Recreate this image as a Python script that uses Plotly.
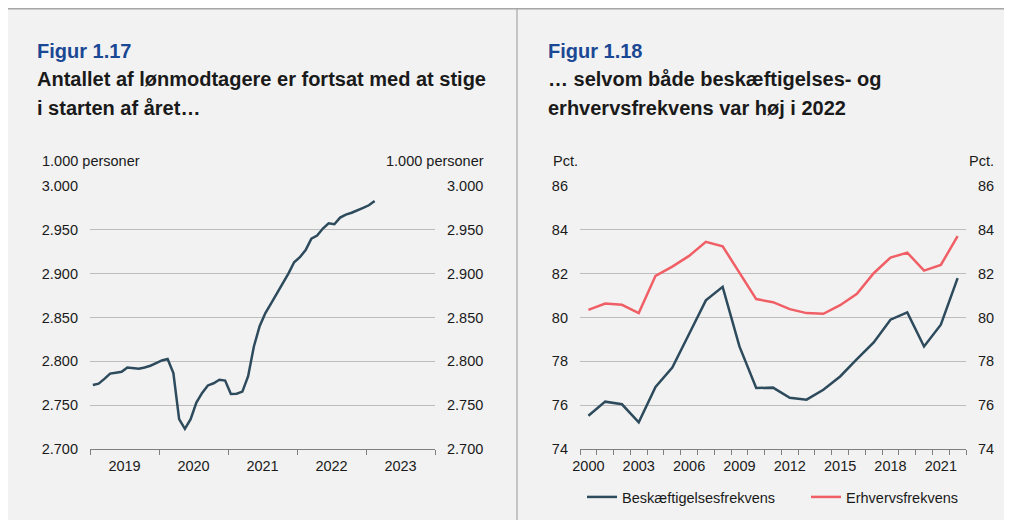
import plotly.graph_objects as go

# ---------- data ----------
lonmodtagere = [2773, 2774.5, 2780, 2786, 2787, 2788, 2793, 2792, 2791.6, 2793,
                2795, 2798, 2801, 2802.6, 2786.6, 2734, 2723, 2734, 2753, 2764,
                2772.5, 2775, 2779, 2778, 2762.7, 2763, 2765.5, 2783, 2817, 2840,
                2855, 2866, 2877, 2888, 2900, 2913, 2918.8, 2927, 2940, 2943.4,
                2951.5, 2957.5, 2956.4, 2964, 2967.3, 2969.5, 2972, 2975, 2978, 2983]
left_year_labels = ["2019", "2020", "2021", "2022", "2023"]
left_ytick_vals = [2700, 2750, 2800, 2850, 2900, 2950, 3000]
left_ytick_text = ["2.700", "2.750", "2.800", "2.850", "2.900", "2.950", "3.000"]

years = list(range(2000, 2023))
beskaeftigelse = [75.52, 76.16, 76.04, 75.22, 76.83, 77.72, 79.25, 80.78, 81.4, 78.68,
                  76.78, 76.8, 76.34, 76.25, 76.7, 77.31, 78.1, 78.86, 79.9, 80.23,
                  78.68, 79.67, 81.8]
erhverv = [80.35, 80.64, 80.58, 80.2, 81.9, 82.32, 82.81, 83.45, 83.25, 82.02,
           80.84, 80.7, 80.38, 80.2, 80.17, 80.56, 81.08, 82.02, 82.73, 82.96,
           82.14, 82.4, 83.71]
right_year_labels = [str(y) for y in range(2000, 2022, 3)]
right_ytick_vals = [74, 76, 78, 80, 82, 84, 86]

# ---------- styles ----------
PAGE_W, PAGE_H = 1012, 520
OFF = 8                      # page body margin
W, H = PAGE_W - OFF, PAGE_H - OFF
FONT = "Liberation Sans, Arial, sans-serif"
DARK = "#2d4b5c"
RED = "#f05f65"
GRID = "#bdbdbd"
AXIS = "#7f7f7f"
BG = "#f2f2f2"
TXT = "#1a1a1a"
BLUE = "#1b4894"
FS = 14.5

def px(x):
    return (x - OFF) / W

def py(y):
    return (PAGE_H - y) / H

ydom = [py(449), py(186)]

month_x = [i + 0.5 for i in range(len(lonmodtagere))]

fig = go.Figure()
fig.add_trace(go.Scatter(x=month_x, y=lonmodtagere, mode="lines",
                         line=dict(color=DARK, width=2.5), showlegend=False,
                         xaxis="x", yaxis="y"))
fig.add_trace(go.Scatter(x=years, y=beskaeftigelse, mode="lines", name="Beskæftigelsesfrekvens",
                         line=dict(color=DARK, width=2.5), xaxis="x2", yaxis="y3"))
fig.add_trace(go.Scatter(x=years, y=erhverv, mode="lines", name="Erhvervsfrekvens",
                         line=dict(color=RED, width=2.5), xaxis="x2", yaxis="y3"))
# invisible traces to carry the right-hand axes
fig.add_trace(go.Scatter(x=[None], y=[None], showlegend=False, xaxis="x", yaxis="y2", hoverinfo="skip"))
fig.add_trace(go.Scatter(x=[None], y=[None], showlegend=False, xaxis="x2", yaxis="y4", hoverinfo="skip"))

tickfont = dict(family=FONT, size=FS, color=TXT)

common_x = dict(showgrid=False, zeroline=False, showline=True, linecolor=AXIS, linewidth=1,
                ticks="", tickfont=tickfont, ticklabelstandoff=4)
common_y = dict(showgrid=True, gridcolor=GRID, gridwidth=1, zeroline=False, showline=False,
                ticks="", tickfont=tickfont, ticklabelstandoff=11)

fig.update_layout(
    width=W, height=H,
    margin=dict(l=0, r=0, t=0, b=0, autoexpand=False),
    paper_bgcolor=BG, plot_bgcolor="rgba(0,0,0,0)",
    font=dict(family=FONT, color=TXT),
    xaxis=dict(common_x, domain=[px(90), px(435)], range=[0, 60], anchor="y",
               tickvals=[6 + 12 * k for k in range(5)], ticktext=left_year_labels,
               minor=dict(ticks="outside", tick0=0, dtick=12, ticklen=5, tickcolor=AXIS, showgrid=False)),
    yaxis=dict(common_y, domain=ydom, range=[2700, 3000], anchor="x",
               tickvals=left_ytick_vals, ticktext=left_ytick_text),
    yaxis2=dict(common_y, domain=ydom, range=[2700, 3000], anchor="x", overlaying="y", side="right",
                showgrid=False, tickvals=left_ytick_vals, ticktext=left_ytick_text),
    xaxis2=dict(common_x, domain=[px(580), px(966)], range=[1999.5, 2022.5], anchor="y3",
                tickvals=list(range(2000, 2022, 3)), ticktext=right_year_labels,
                minor=dict(ticks="outside", tick0=1999.5, dtick=1, ticklen=5, tickcolor=AXIS, showgrid=False)),
    yaxis3=dict(common_y, domain=ydom, range=[74, 86], anchor="x2", tickvals=right_ytick_vals),
    yaxis4=dict(common_y, domain=ydom, range=[74, 86], anchor="x2", overlaying="y3", side="right",
                showgrid=False, tickvals=right_ytick_vals),
    legend=dict(orientation="h", x=px(582), y=py(497), xanchor="left", yanchor="middle",
                bgcolor="rgba(0,0,0,0)", font=dict(family=FONT, size=FS, color=TXT),
                itemwidth=30, entrywidth=179, entrywidthmode="pixels"),
)

shapes = [
    dict(type="line", xref="paper", yref="paper", x0=0, x1=1, y0=py(8.8), y1=py(8.8),
         line=dict(color="#a6a6a6", width=1.5), layer="below"),
    dict(type="line", xref="paper", yref="paper", x0=px(517), x1=px(517), y0=0, y1=py(8.8),
         line=dict(color="#a6a6a6", width=1.2), layer="below"),
]
fig.update_layout(shapes=shapes)

ann = []
def txt(x, y, s, size=FS, color=TXT, bold=False, xanchor="left"):
    ann.append(dict(xref="paper", yref="paper", x=px(x), y=py(y), text=f"<b>{s}</b>" if bold else s,
                    showarrow=False, xanchor=xanchor, yanchor="middle",
                    font=dict(family=FONT, size=size, color=color)))

TS = 20
txt(35, 51, "Figur 1.17", TS, BLUE, True)
txt(35, 79, "Antallet af lønmodtagere er fortsat med at stige", TS, TXT, True)
txt(35, 108, "i starten af året…", TS, TXT, True)
txt(546, 51, "Figur 1.18", TS, BLUE, True)
txt(546, 79, "… selvom både beskæftigelses- og", TS, TXT, True)
txt(546, 108, "erhvervsfrekvens var høj i 2022", TS, TXT, True)

txt(40, 161, "1.000 personer")
txt(486, 161, "1.000 personer", xanchor="right")
txt(551, 161, "Pct.")
txt(996, 161, "Pct.", xanchor="right")
fig.update_layout(annotations=ann)

fig.write_html("out.html")
